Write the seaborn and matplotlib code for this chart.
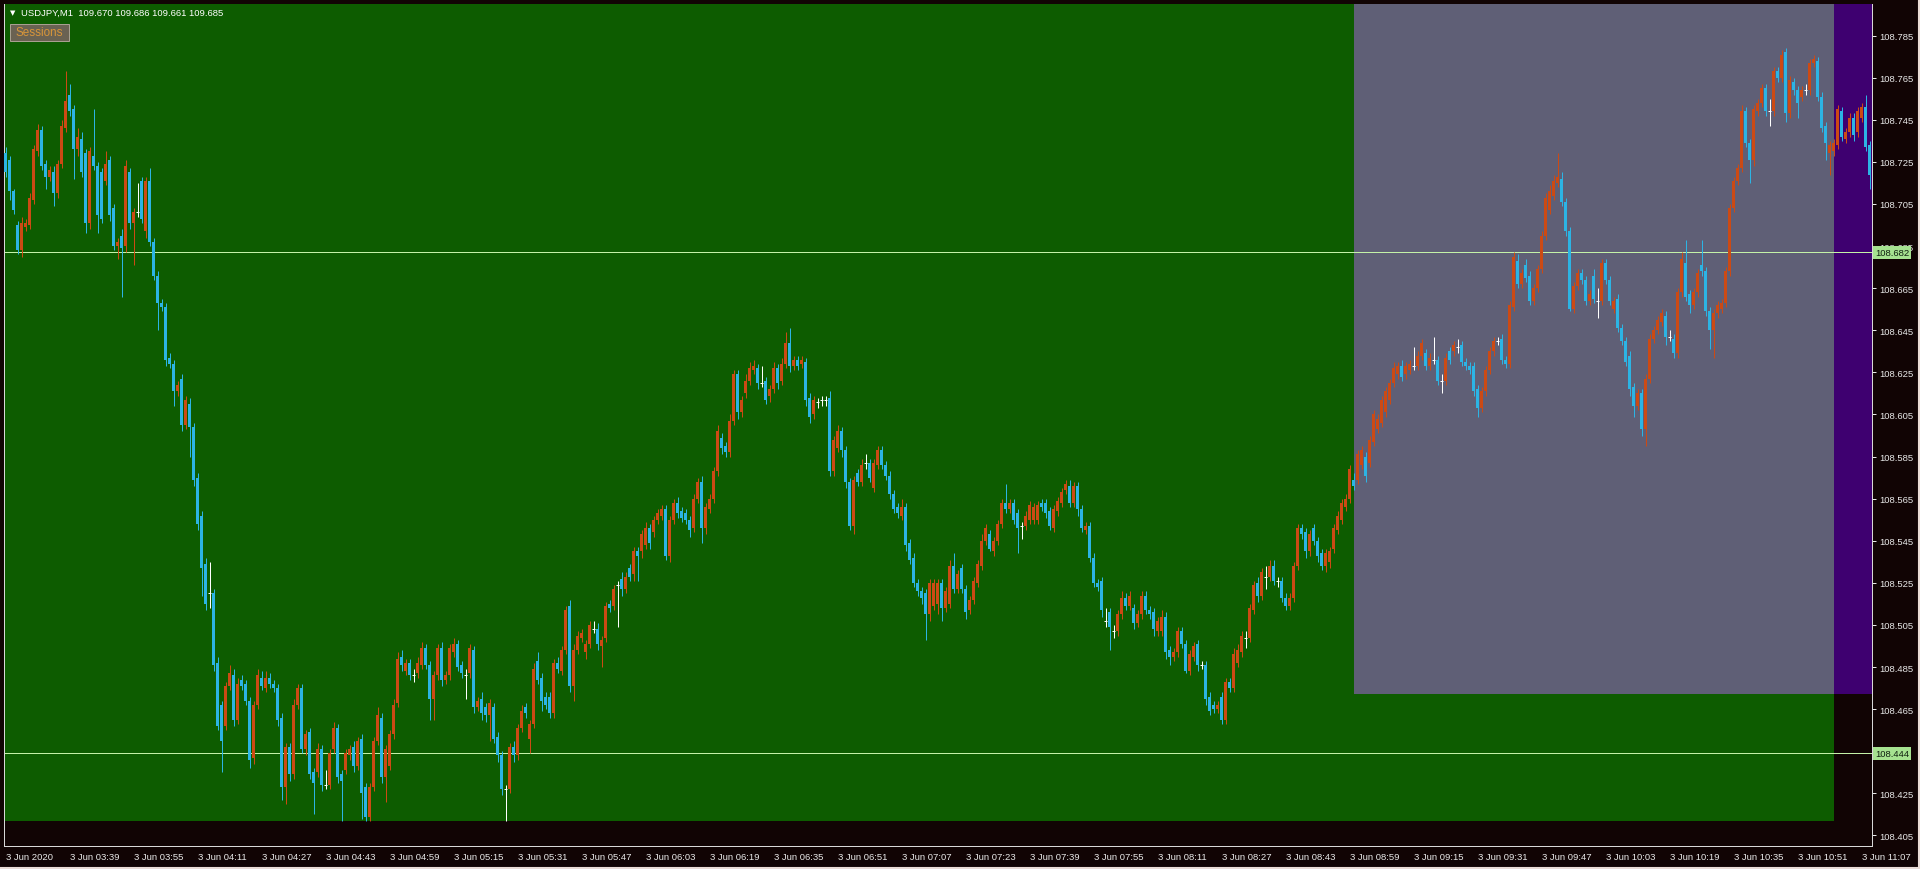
import numpy as np
import matplotlib
matplotlib.use('Agg')
import matplotlib.pyplot as plt
from matplotlib.patches import Rectangle
from matplotlib.lines import Line2D
import seaborn as sns

# USDJPY M1, precios en puntos (0.001) por encima de 108.400, una vela por minuto desde 03:23
base = 108.400

opens = [
    329, 326, 311, 295, 283, 294, 295, 307, 330, 340,
    324, 318, 320, 310, 324, 341, 357, 350, 331, 336,
    329, 296, 328, 323, 320, 316, 326, 303, 285, 290,
    285, 320, 296, 301, 316, 292, 316, 287, 271, 258,
    256, 232, 229, 216, 222, 200, 210, 199, 175, 157,
    134, 120, 120, 87, 67, 57, 76, 81, 60, 79,
    77, 69, 42, 67, 80, 75, 80, 77, 75, 61,
    28, 47, 34, 67, 75, 46, 54, 35, 35, 46,
    29, 29, 46, 56, 34, 36, 43, 47, 38, 51,
    28, 14, 28, 50, 61, 33, 38, 53, 68, 90,
    83, 87, 82, 82, 86, 94, 86, 70, 81, 94,
    79, 81, 92, 96, 86, 82, 82, 93, 66, 70,
    66, 62, 66, 52, 43, 27, 27, 47, 43, 56,
    66, 51, 58, 88, 80, 71, 71, 63, 87, 83,
    93, 114, 76, 93, 99, 92, 96, 103, 103, 95,
    99, 115, 114, 124, 127, 122, 132, 129, 140, 140,
    143, 151, 149, 155, 157, 160, 138, 155, 163, 159,
    158, 155, 151, 165, 173, 151, 160, 165, 178, 194,
    190, 187, 202, 224, 206, 215, 221, 226, 227, 220,
    221, 214, 217, 227, 221, 229, 239, 228, 231, 229,
    230, 213, 205, 210, 211, 211, 213, 178, 189, 197,
    188, 173, 152, 177, 173, 182, 182, 170, 181, 188,
    181, 176, 167, 161, 157, 161, 144, 137, 125, 121,
    120, 110, 114, 115, 125, 113, 115, 133, 122, 132,
    122, 112, 117, 125, 133, 145, 148, 140, 145, 153,
    163, 160, 163, 158, 152, 152, 155, 155, 155, 163,
    163, 159, 151, 159, 163, 169, 171, 163, 171, 160,
    150, 152, 137, 125, 126, 107, 111, 102, 102, 110,
    118, 114, 113, 106, 110, 119, 112, 111, 102, 102,
    109, 93, 90, 92, 102, 96, 83, 90, 96, 86,
    86, 71, 67, 65, 71, 60, 78, 75, 87, 92,
    99, 99, 112, 125, 119, 128, 128, 133, 126, 126,
    118, 114, 118, 133, 151, 149, 140, 151, 145, 139,
    133, 135, 141, 150, 155, 161, 165, 174, 174, 181,
    185, 182, 192, 198, 201, 206, 212, 220, 224, 228,
    224, 226, 228, 228, 233, 234, 228, 231, 231, 221,
    221, 235, 235, 237, 238, 230, 228, 228, 217, 208,
    216, 226, 235, 240, 241, 231, 229, 256, 278, 267,
    276, 271, 259, 265, 274, 290, 302, 309, 315, 317,
    306, 292, 255, 266, 272, 269, 259, 271, 259, 259,
    277, 269, 255, 260, 246, 240, 233, 218, 209, 215,
    198, 222, 241, 245, 249, 252, 243, 241, 234, 263,
    277, 262, 257, 263, 276, 273, 254, 245, 253, 255,
    258, 273, 303, 316, 322, 349, 334, 326, 349, 353,
    360, 349, 349, 368, 365, 377, 348, 363, 359, 356,
    359, 359, 372, 373, 356, 342, 329, 330, 333, 349,
    336, 339, 346, 339, 346, 351, 333,
]

closes = [
    320, 311, 302, 283, 296, 296, 308, 331, 340, 323,
    318, 321, 310, 324, 342, 354, 349, 331, 337, 320,
    296, 330, 323, 300, 298, 324, 300, 285, 287, 284,
    323, 296, 301, 301, 298, 316, 287, 271, 258, 256,
    231, 229, 216, 219, 200, 212, 199, 174, 153, 132,
    115, 120, 86, 57, 50, 76, 82, 60, 77, 76,
    69, 41, 67, 81, 76, 80, 77, 75, 60, 28,
    47, 34, 67, 75, 46, 53, 34, 30, 46, 29,
    29, 44, 56, 33, 31, 44, 46, 38, 50, 25,
    14, 28, 50, 62, 33, 46, 53, 67, 89, 86,
    87, 81, 81, 87, 94, 86, 70, 81, 94, 79,
    81, 94, 96, 85, 82, 81, 94, 66, 69, 63,
    62, 68, 51, 43, 27, 27, 47, 43, 56, 64,
    63, 58, 84, 79, 69, 67, 63, 87, 84, 93,
    112, 76, 93, 100, 101, 96, 105, 103, 96, 98,
    114, 113, 122, 124, 122, 128, 128, 140, 138, 148,
    151, 144, 155, 158, 160, 138, 155, 163, 158, 156,
    155, 150, 165, 173, 151, 161, 165, 178, 197, 189,
    187, 202, 224, 206, 212, 221, 227, 228, 220, 220,
    212, 217, 227, 220, 229, 239, 228, 231, 228, 231,
    212, 204, 212, 211, 212, 212, 178, 193, 197, 188,
    173, 152, 174, 173, 181, 182, 175, 182, 188, 181,
    176, 167, 160, 158, 161, 143, 136, 125, 121, 118,
    110, 125, 125, 125, 113, 121, 133, 122, 129, 122,
    111, 117, 126, 134, 145, 151, 141, 145, 153, 163,
    160, 163, 155, 151, 152, 157, 162, 161, 162, 161,
    158, 152, 160, 164, 168, 172, 163, 171, 160, 151,
    152, 137, 125, 123, 112, 107, 104, 102, 110, 118,
    114, 119, 106, 110, 119, 112, 110, 103, 107, 109,
    92, 90, 92, 102, 96, 83, 91, 95, 86, 86,
    70, 64, 65, 67, 60, 78, 75, 91, 93, 100,
    99, 113, 124, 119, 130, 128, 133, 126, 126, 118,
    114, 118, 133, 151, 148, 140, 148, 145, 138, 133,
    139, 140, 151, 157, 163, 165, 179, 171, 186, 188,
    176, 193, 205, 203, 212, 216, 220, 227, 228, 223,
    228, 229, 228, 233, 239, 228, 232, 231, 221, 221,
    232, 231, 238, 237, 230, 228, 226, 216, 208, 216,
    226, 235, 240, 240, 231, 229, 257, 280, 267, 272,
    270, 259, 265, 274, 290, 308, 311, 316, 318, 306,
    292, 255, 266, 272, 269, 259, 262, 260, 259, 277,
    269, 259, 259, 246, 240, 230, 217, 209, 215, 198,
    222, 241, 245, 250, 253, 242, 242, 234, 263, 279,
    261, 257, 263, 272, 273, 254, 245, 253, 257, 258,
    273, 303, 316, 322, 349, 334, 326, 350, 353, 360,
    349, 349, 368, 365, 376, 348, 364, 359, 353, 359,
    359, 372, 374, 356, 341, 334, 333, 334, 350, 337,
    339, 346, 338, 349, 351, 332, 319,
]

wick_hi = [
    3, 2, 1, 2, 3, 2, 2, 2, 3, 2,
    2, 2, 3, 2, 3, 14, 5, 2, 4, 3,
    2, 2, 22, 2, 2, 6, 2, 2, 2, 3,
    3, 2, 2, 14, 2, 2, 6, 2, 2, 2,
    2, 2, 2, 2, 2, 2, 3, 2, 2, 2,
    3, 15, 2, 3, 2, 2, 4, 3, 3, 2,
    2, 2, 2, 3, 3, 3, 2, 2, 2, 2,
    2, 2, 3, 2, 2, 2, 2, 2, 3, 2,
    7, 2, 3, 2, 2, 2, 2, 3, 2, 2,
    2, 2, 2, 4, 2, 2, 2, 3, 3, 3,
    2, 2, 2, 3, 3, 2, 2, 2, 2, 3,
    2, 2, 3, 2, 2, 2, 2, 2, 2, 3,
    2, 2, 2, 2, 2, 2, 2, 3, 2, 3,
    2, 2, 3, 4, 2, 2, 2, 2, 3, 2,
    2, 3, 3, 2, 2, 2, 2, 4, 3, 2,
    2, 2, 2, 2, 3, 2, 2, 2, 2, 2,
    3, 2, 2, 2, 2, 2, 2, 2, 3, 2,
    2, 2, 2, 2, 3, 2, 2, 2, 3, 2,
    2, 3, 2, 2, 2, 3, 3, 3, 2, 8,
    2, 2, 3, 2, 3, 5, 7, 2, 2, 2,
    2, 2, 2, 2, 2, 2, 3, 2, 3, 2,
    2, 2, 2, 2, 3, 4, 2, 2, 2, 2,
    2, 2, 2, 2, 4, 2, 2, 2, 2, 2,
    2, 2, 2, 2, 2, 2, 3, 6, 2, 2,
    2, 2, 2, 2, 3, 2, 2, 2, 2, 2,
    9, 2, 2, 2, 2, 2, 2, 2, 2, 2,
    2, 2, 2, 2, 2, 2, 3, 2, 2, 2,
    2, 2, 2, 2, 2, 6, 2, 3, 2, 3,
    2, 2, 2, 2, 2, 2, 2, 2, 2, 3,
    2, 2, 2, 2, 2, 2, 2, 2, 2, 2,
    2, 2, 2, 2, 2, 2, 2, 3, 3, 2,
    3, 2, 2, 3, 2, 5, 3, 3, 2, 2,
    2, 2, 2, 2, 2, 2, 2, 2, 2, 2,
    2, 2, 2, 2, 2, 2, 2, 3, 2, 2,
    2, 2, 2, 2, 2, 2, 2, 3, 2, 3,
    2, 2, 9, 2, 2, 2, 2, 11, 2, 3,
    2, 2, 2, 4, 2, 2, 2, 2, 2, 2,
    2, 2, 2, 2, 2, 2, 2, 2, 3, 2,
    3, 2, 2, 2, 2, 2, 3, 3, 11, 3,
    2, 2, 2, 2, 2, 2, 2, 3, 6, 2,
    2, 2, 2, 2, 2, 2, 2, 2, 2, 2,
    2, 2, 2, 2, 2, 2, 2, 2, 2, 3,
    11, 2, 2, 2, 12, 2, 2, 2, 2, 2,
    2, 2, 2, 2, 3, 2, 2, 2, 2, 2,
    2, 6, 2, 2, 2, 2, 2, 2, 2, 2,
    3, 2, 2, 2, 2, 2, 2, 2, 2, 2,
    2, 2, 2, 2, 2, 6, 2,
]

wick_lo = [
    2, 4, 2, 2, 3, 2, 2, 2, 2, 2,
    6, 2, 6, 2, 2, 2, 2, 14, 3, 2,
    5, 3, 2, 9, 2, 2, 3, 2, 6, 23,
    3, 3, 20, 2, 2, 3, 2, 2, 13, 2,
    3, 2, 7, 2, 3, 2, 14, 3, 3, 13,
    3, 7, 3, 2, 15, 2, 2, 3, 2, 2,
    2, 4, 3, 2, 2, 2, 2, 2, 3, 6,
    8, 3, 2, 2, 2, 3, 2, 15, 2, 3,
    2, 2, 2, 3, 19, 2, 2, 3, 2, 12,
    2, 2, 2, 2, 3, 12, 2, 2, 2, 3,
    2, 2, 3, 2, 2, 2, 10, 10, 2, 3,
    2, 2, 2, 2, 2, 11, 2, 3, 2, 3,
    3, 12, 2, 3, 3, 15, 2, 3, 2, 2,
    2, 7, 2, 2, 5, 2, 2, 2, 2, 2,
    2, 3, 7, 2, 2, 3, 2, 2, 3, 10,
    2, 2, 2, 20, 3, 2, 2, 3, 12, 3,
    2, 3, 2, 2, 2, 2, 3, 2, 2, 2,
    2, 3, 2, 2, 7, 3, 2, 2, 2, 3,
    2, 2, 2, 3, 2, 2, 2, 2, 3, 2,
    2, 3, 2, 3, 2, 2, 3, 2, 2, 2,
    3, 3, 2, 2, 2, 2, 2, 2, 2, 3,
    3, 2, 4, 2, 2, 3, 2, 2, 2, 2,
    2, 2, 2, 2, 2, 3, 2, 2, 2, 3,
    12, 3, 2, 5, 6, 2, 2, 2, 2, 2,
    3, 2, 2, 2, 2, 2, 1, 2, 2, 2,
    2, 2, 2, 12, 6, 2, 2, 2, 2, 2,
    2, 2, 2, 2, 2, 2, 2, 2, 3, 2,
    2, 2, 2, 2, 3, 3, 11, 3, 2, 2,
    2, 2, 3, 2, 2, 2, 2, 3, 2, 2,
    3, 4, 2, 2, 2, 1, 2, 2, 3, 2,
    3, 2, 2, 2, 2, 2, 2, 2, 2, 2,
    5, 2, 2, 3, 2, 6, 2, 2, 3, 2,
    2, 2, 2, 2, 2, 3, 2, 2, 3, 2,
    3, 3, 2, 2, 2, 2, 2, 2, 2, 2,
    3, 2, 2, 2, 2, 2, 2, 2, 2, 2,
    2, 2, 2, 2, 2, 2, 2, 2, 2, 6,
    2, 2, 2, 3, 2, 2, 2, 2, 4, 2,
    2, 2, 2, 2, 2, 2, 2, 2, 2, 2,
    2, 2, 2, 2, 2, 2, 2, 2, 2, 2,
    2, 1, 2, 2, 2, 2, 2, 2, 8, 2,
    2, 2, 2, 2, 2, 2, 3, 5, 2, 3,
    8, 2, 2, 2, 2, 4, 2, 2, 2, 2,
    2, 4, 2, 2, 2, 2, 9, 13, 2, 2,
    2, 2, 2, 2, 2, 2, 11, 3, 2, 2,
    2, 7, 2, 2, 2, 4, 2, 2, 7, 2,
    2, 2, 2, 2, 2, 8, 10, 2, 2, 2,
    2, 2, 3, 2, 2, 2, 7,
]

time_labels = ['3 Jun 2020', '3 Jun 03:39', '3 Jun 03:55', '3 Jun 04:11', '3 Jun 04:27',
               '3 Jun 04:43', '3 Jun 04:59', '3 Jun 05:15', '3 Jun 05:31', '3 Jun 05:47',
               '3 Jun 06:03', '3 Jun 06:19', '3 Jun 06:35', '3 Jun 06:51', '3 Jun 07:07',
               '3 Jun 07:23', '3 Jun 07:39', '3 Jun 07:55', '3 Jun 08:11', '3 Jun 08:27',
               '3 Jun 08:43', '3 Jun 08:59', '3 Jun 09:15', '3 Jun 09:31', '3 Jun 09:47',
               '3 Jun 10:03', '3 Jun 10:19', '3 Jun 10:35', '3 Jun 10:51', '3 Jun 11:07']
price_ticks = [108.405, 108.425, 108.445, 108.465, 108.485, 108.505, 108.525, 108.545,
               108.565, 108.585, 108.605, 108.625, 108.645, 108.665, 108.685, 108.705,
               108.725, 108.745, 108.765, 108.785]
level_lines = [108.682, 108.444]

# cajas de sesiones: barra inicial, barra final, minimo, color
session_start = [-10, 337, 457]
session_end = [457, 457, 480]
session_low = [108.412, 108.472, 108.472]
session_color = ['#0d5c00', '#5f5f76', '#3e0070']

assert len(opens) == len(closes) == len(wick_hi) == len(wick_lo) == 467

sns.set_theme(style='dark')
plt.rcParams['font.family'] = ['Liberation Sans', 'DejaVu Sans']

bg = '#110404'
bull = '#cc4a14'
bear = '#2cb4e4'
px = 0.72

o = base + np.array(opens) / 1000
c = base + np.array(closes) / 1000
hi = np.maximum(o, c) + np.array(wick_hi) / 1000
lo = np.minimum(o, c) - np.array(wick_lo) / 1000
x = np.arange(len(o))
doji = np.isclose(o, c)
cols = np.where(c > o, bull, bear)
cols = np.where(doji, 'white', cols)

fig = plt.figure(figsize=(19.2, 8.7), dpi=100, facecolor=bg)
ax = fig.add_axes([4 / 1920, 23 / 870, 1868 / 1920, 842 / 870], facecolor=bg)
ax.set_xlim(-0.375, 466.625)
ax.set_ylim(108.400, 108.800)
ax.grid(False)

for s0, s1, slo, scol in zip(session_start, session_end, session_low, session_color):
    ax.add_patch(Rectangle((s0, slo), s1 - s0, 1.0, facecolor=scol, edgecolor='none', zorder=0))

for lv in level_lines:
    ax.axhline(lv, color='#c4f2a8', lw=px, zorder=1)

ax.vlines(x, lo, hi, colors=cols, lw=px, zorder=2)
body_bottom = np.minimum(o, c)
body_h = np.abs(c - o)
ax.bar(x[~doji], body_h[~doji], bottom=body_bottom[~doji], width=0.72,
       color=cols[~doji], linewidth=0, zorder=3)
ax.hlines(c[doji], x[doji] - 0.4, x[doji] + 0.4, colors='white', lw=px, zorder=3)

# ejes
for side in ['left', 'bottom', 'right']:
    ax.spines[side].set_color('#d8d8d8')
    ax.spines[side].set_linewidth(px)
ax.spines['top'].set_visible(False)

ax.yaxis.tick_right()
ax.set_yticks(price_ticks)
# la etiqueta 108.445 queda tapada por la caja de la linea 108.444
ax.set_yticklabels(['' if abs(p - 108.445) < 1e-6 else f'{p:.3f}' for p in price_ticks])
ax.tick_params(axis='y', which='both', direction='out', length=3, width=px,
               colors='#e8e8e8', labelsize=6.8, pad=2.2, left=False, right=True)
ax.set_xticks(np.arange(0, 467, 16))
ax.set_xticklabels(time_labels, ha='left')
ax.tick_params(axis='x', direction='out', length=3, width=px, colors='#e8e8e8',
               labelsize=6.8, pad=1.0)

for lv in level_lines:
    ax.text(1 + 3 / 1868, lv, f'{lv:.3f}', transform=ax.get_yaxis_transform(),
            fontsize=6.8, color='#102010', va='center', ha='left', zorder=10, clip_on=False,
            bbox=dict(boxstyle='square,pad=0.2', fc='#a6e290', ec='none'))

# cabecera
fig.text(10 / 1920, 1 - 13 / 870, '\u25bc', color='white', fontsize=5,
         family=['DejaVu Sans'], va='center', ha='left')
fig.text(21 / 1920, 1 - 13 / 870, 'USDJPY,M1  109.670 109.686 109.661 109.685',
         color='white', fontsize=6.8, va='center', ha='left')
fig.patches.append(Rectangle((10 / 1920, 1 - 42 / 870), 59 / 1920, 17 / 870,
                             transform=fig.transFigure, facecolor='#6a6252',
                             edgecolor='#a8a090', lw=px))
fig.text(39.5 / 1920, 1 - 33.5 / 870, 'Sessions', color='#d8963a', fontsize=8.4,
         va='center', ha='center')

# borde claro de la ventana a la derecha y abajo
fig.lines.append(Line2D([1918.5 / 1920, 1918.5 / 1920], [0, 1], transform=fig.transFigure,
                        color='#eadcd6', lw=1.5))
fig.lines.append(Line2D([0, 1], [1.5 / 870, 1.5 / 870], transform=fig.transFigure,
                        color='#eadcd6', lw=1.5))

plt.savefig('out.png', dpi=100, facecolor=bg)
